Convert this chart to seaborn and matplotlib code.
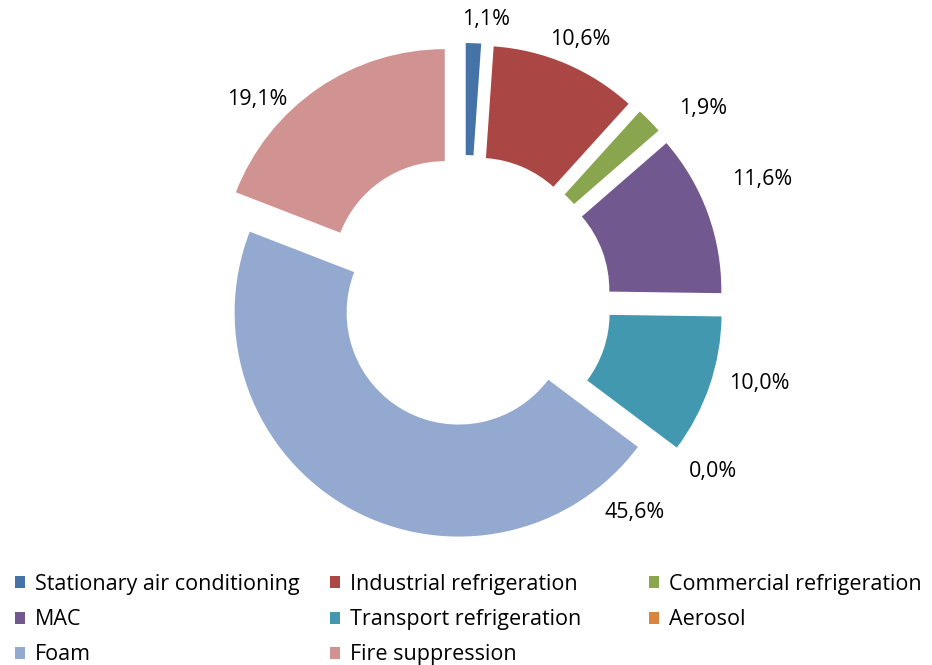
import numpy as np
import seaborn as sns
from matplotlib import pyplot as plt
from matplotlib.patches import Patch

categories = ["Stationary air conditioning", "Industrial refrigeration", "Commercial refrigeration",
              "MAC", "Transport refrigeration", "Aerosol", "Foam", "Fire suppression"]
shares = [1.1, 10.6, 1.9, 11.6, 10.0, 0.0, 45.6, 19.1]
colors = ["#4572A7", "#AA4643", "#89A54E", "#71588F", "#4198AF", "#DB843D", "#93A9CF", "#D19392"]

# how far each slice is pulled out (fraction of radius)
explode = [0.156, 0.156, 0.156, 0.156, 0.156, 0.156, 0.054, 0.156]

# label anchors, in units of the outer radius from the pie centre
label_pos = [(0.096, 1.268), (0.516, 1.179), (1.065, 0.871), (1.328, 0.554),
             (1.315, -0.353), (1.109, -0.750), (0.761, -0.929), (-0.926, 0.915)]

sns.set_theme(style="white")
plt.rcParams['font.family'] = ['Open Sans', 'DejaVu Sans']
plt.rcParams['text.color'] = 'black'

W, H = 932, 665
R = 224.0          # outer radius in pixels
cx, cy = 464.5, 302.0

fig = plt.figure(figsize=(W / 100, H / 100), dpi=100)
ax = fig.add_axes([0, 0, 1, 1])

wedges, _ = ax.pie(shares, colors=colors, startangle=90, counterclock=False,
                   explode=explode, radius=1,
                   wedgeprops=dict(width=0.5, linewidth=0, edgecolor="none"))

for (lx, ly), v in zip(label_pos, shares):
    ax.text(lx, ly - 7.5 / R, f"{v:.1f}%".replace(".", ","), ha="center", va="baseline",
            fontsize=15.5, color="black")

ax.set_xlim(-cx / R, (W - cx) / R)
ax.set_ylim(-(H - cy) / R, cy / R)
ax.set_aspect("equal")
ax.axis("off")

# legend: three equal-width columns, filled row by row like the original
col_x = [15, 330, 649]
for c in range(3):
    idx = list(range(c, len(categories), 3))
    handles = [Patch(facecolor=colors[i], edgecolor="none") for i in idx]
    labels = [categories[i] for i in idx]
    leg = fig.legend(handles, labels, loc="upper left",
                     bbox_to_anchor=(col_x[c] / W, 1 - 574 / H),
                     frameon=False, fontsize=15.5, borderpad=0, borderaxespad=0,
                     handlelength=0.48, handleheight=0.48, handletextpad=0.45,
                     labelspacing=0.66)

fig.savefig("out.png", dpi=100)
